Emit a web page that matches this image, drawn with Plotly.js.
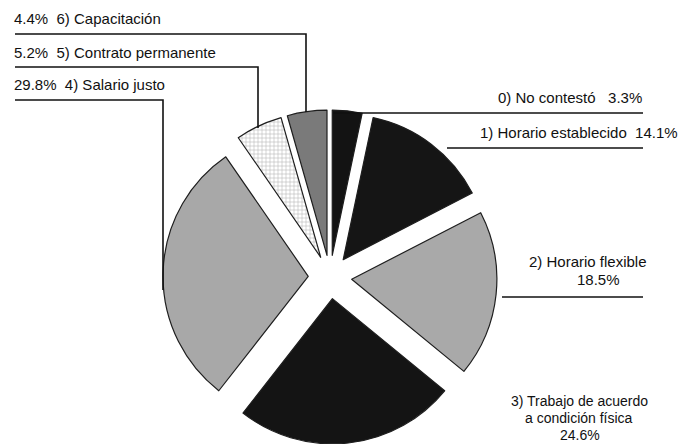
<!DOCTYPE html>
<html>
<head>
<meta charset="utf-8">
<script src="https://cdn.plot.ly/plotly-3.0.1.min.js"></script>
<style>html,body{margin:0;padding:0;background:#fff;}#chart{width:686px;height:444px;}</style>
</head>
<body>
<div id="chart"></div>
<script>
// ---- data ----
const codes = ['0)', '1)', '2)', '3)', '4)', '5)', '6)'];
const categories = ['No contestó', 'Horario establecido', 'Horario flexible',
  'Trabajo de acuerdo a condición física', 'Salario justo', 'Contrato permanente', 'Capacitación'];
const categoryLines3 = ['Trabajo de acuerdo', 'a condición física'];
const values = [3.3, 14.1, 18.5, 24.6, 29.8, 5.2, 4.4];

// ---- styles ----
const colors = ['#131313', '#151515', '#a9a9a9', '#141414', '#a8a8a8', '#e9e9e9', '#7a7a7a'];
const patterns = ['', '', '', '', '', '+', ''];
const W = 686, H = 444;
const px = x => x / W;
const py = y => 1 - y / H;
const pct = v => v.toFixed(1) + '%';
const FONT = {family: 'Liberation Sans, Arial, sans-serif', size: 15, color: '#111'};
const FONT_SM = {family: 'Liberation Sans, Arial, sans-serif', size: 14, color: '#111'};

const trace = {
  type: 'pie',
  values: values,
  labels: codes.map((c, i) => c + ' ' + categories[i]),
  sort: false,
  direction: 'clockwise',
  rotation: 0,
  pull: values.map(() => 0.15),
  textinfo: 'none',
  hoverinfo: 'label+percent',
  marker: {
    colors: colors,
    line: {color: '#1e1e1e', width: 1.2},
    pattern: {shape: patterns, fgcolor: '#b0b0b0', size: 4, solidity: 0.25}
  },
  domain: {x: [px(163), px(497)], y: [0, py(110)]},
  showlegend: false
};

function ann(text, x, y, xanchor, font) {
  return {text: text, x: px(x), y: py(y), xref: 'paper', yref: 'paper', borderpad: 0,
    xanchor: xanchor, yanchor: 'middle', align: 'left', showarrow: false, font: font || FONT};
}
const annotations = [
  ann(pct(values[6]) + '  ' + codes[6] + ' ' + categories[6], 13, 18, 'left'),
  ann(pct(values[5]) + '  ' + codes[5] + ' ' + categories[5], 13, 52, 'left'),
  ann(pct(values[4]) + '  ' + codes[4] + ' ' + categories[4], 13, 84, 'left'),
  ann(codes[0] + ' ' + categories[0] + '   ' + pct(values[0]), 643, 97, 'right'),
  ann(codes[1] + ' ' + categories[1] + '  ' + pct(values[1]), 679, 132, 'right'),
  ann(codes[2] + ' ' + categories[2], 588, 261, 'center'),
  ann(pct(values[2]), 598, 279, 'center'),
  ann(codes[3] + ' ' + categoryLines3[0], 579, 401, 'center', FONT_SM),
  ann(categoryLines3[1], 579, 418, 'center', FONT_SM),
  ann(pct(values[3]), 580, 435, 'center', FONT_SM)
];

function path(pts) {
  return 'M ' + pts.map(p => px(p[0]) + ',' + py(p[1])).join(' L ');
}
const lineStyle = {color: '#111', width: 1.6};
const shapes = [
  [[15, 34], [306, 34], [306, 112]],
  [[15, 67], [258, 67], [258, 128]],
  [[15, 100], [163, 100], [163, 290]],
  [[333, 113], [643, 113]],
  [[447, 148], [643, 148]],
  [[502, 297], [643, 297]]
].map(pts => ({type: 'path', xref: 'paper', yref: 'paper', path: path(pts), line: lineStyle}));

const layout = {
  width: W, height: H,
  margin: {l: 0, r: 0, t: 0, b: 0},
  paper_bgcolor: '#fff', plot_bgcolor: '#fff',
  showlegend: false,
  annotations: annotations,
  shapes: shapes,
  font: FONT
};
Plotly.newPlot('chart', [trace], layout, {displayModeBar: false, staticPlot: true});
</script>
</body>
</html>
